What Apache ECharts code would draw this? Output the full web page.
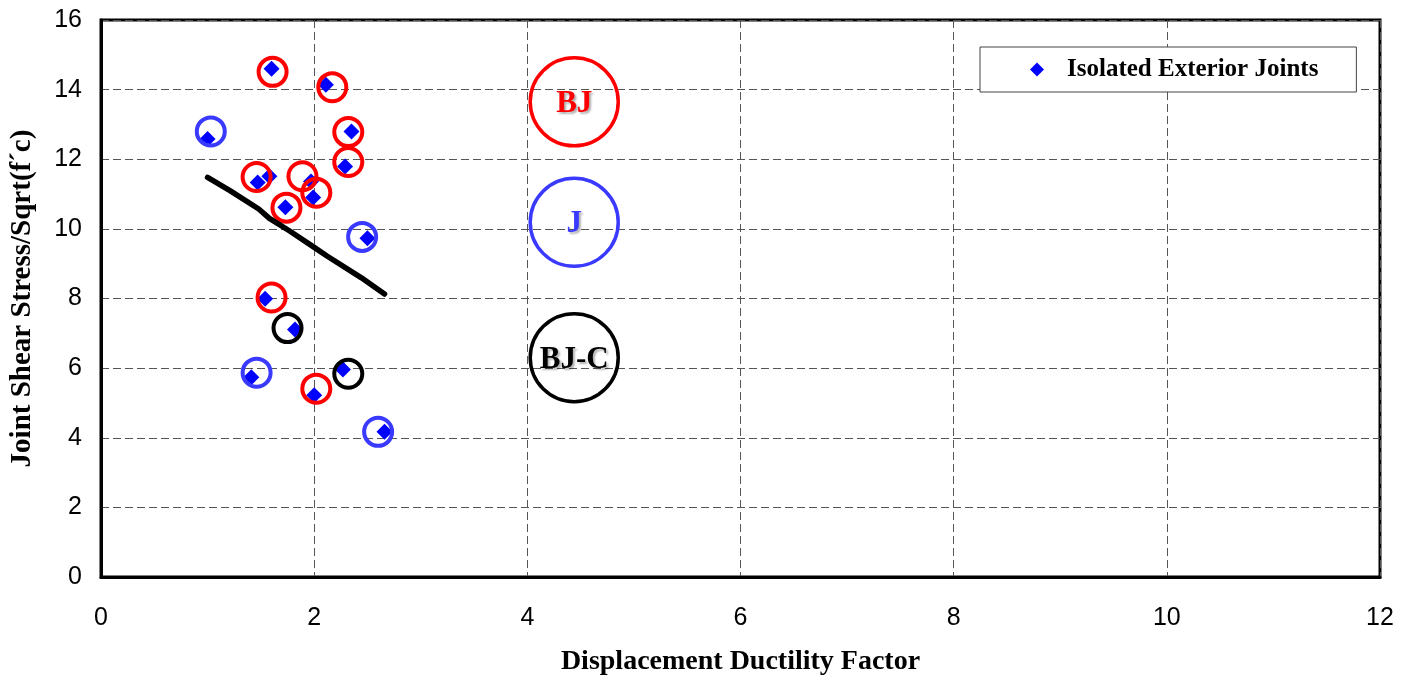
<!DOCTYPE html>
<html>
<head>
<meta charset="utf-8">
<script src="https://cdn.jsdelivr.net/npm/echarts@6/dist/echarts.min.js"></script>
<style>
html,body{margin:0;padding:0;background:#fff;}
#chart{width:1402px;height:681px;}
</style>
</head>
<body>
<div id="chart"></div>
<script>
// ---- data ----
var xTicks = [0, 2, 4, 6, 8, 10, 12];
var yTicks = [0, 2, 4, 6, 8, 10, 12, 14, 16];

var jointX = [1.60, 2.11, 1.00, 2.35, 2.29, 1.58, 1.47, 1.97, 1.99, 1.73, 2.50, 1.54, 1.82, 1.41, 2.27, 2.00, 2.66];
var jointY = [14.60, 14.14, 12.58, 12.80, 11.79, 11.51, 11.33, 11.36, 10.90, 10.62, 9.73, 7.99, 7.11, 5.74, 5.96, 5.22, 4.17];

var redCircleX = [1.61, 2.17, 2.32, 2.32, 1.46, 1.89, 2.02, 1.74, 1.60, 2.02];
var redCircleY = [14.51, 14.07, 12.78, 11.92, 11.49, 11.51, 11.04, 10.61, 8.03, 5.41];

var blueCircleX = [1.03, 2.45, 1.46, 2.60];
var blueCircleY = [12.80, 9.77, 5.87, 4.17];

var blackCircleX = [1.75, 2.32];
var blackCircleY = [7.15, 5.84];

var trendX = [1.00, 1.21, 1.48, 1.58, 1.77, 1.99, 2.12, 2.44, 2.66];
var trendY = [11.48, 11.10, 10.57, 10.30, 9.94, 9.49, 9.22, 8.60, 8.13];

var keyLabels = ['BJ', 'J', 'BJ-C'];
var keyX = [4.44, 4.44, 4.44];
var keyY = [13.65, 10.19, 6.30];
var keyColors = ['#ff0000', '#3a3aff', '#000000'];

var seriesName = 'Isolated Exterior Joints';
var xTitle = 'Displacement Ductility Factor';
var yTitle = 'Joint Shear Stress/Sqrt(f\u00b4c)';

function pairs(xs, ys) { return xs.map(function (x, i) { return [x, ys[i]]; }); }

var chart = echarts.init(document.getElementById('chart'), null, { renderer: 'canvas' });

var keyData = keyLabels.map(function (t, i) {
  return {
    value: [keyX[i], keyY[i]],
    name: t,
    itemStyle: { borderColor: keyColors[i] },
    label: { color: keyColors[i] }
  };
});

function ring(color) {
  return { color: 'rgba(0,0,0,0)', borderColor: color, borderWidth: 4, opacity: 1 };
}

chart.setOption({
  backgroundColor: '#ffffff',
  animation: false,
  grid: {
    left: 101, right: 22, top: 20, bottom: 102,
    show: true, borderColor: '#000', borderWidth: 3, backgroundColor: 'transparent'
  },
  legend: {
    data: [seriesName],
    left: 980, top: 47,
    orient: 'horizontal',
    itemWidth: 14, itemHeight: 14,
    padding: [10, 38, 10, 50],
    borderColor: '#444', borderWidth: 1,
    backgroundColor: '#fff',
    textStyle: {
      fontFamily: 'Liberation Serif', fontWeight: 'bold', fontSize: 25, color: '#000',
      padding: [0, 0, 0, 18]
    }
  },
  xAxis: {
    type: 'value', min: 0, max: 12, interval: 2,
    name: xTitle, nameLocation: 'middle', nameGap: 71,
    nameTextStyle: { fontFamily: 'Liberation Serif', fontWeight: 'bold', fontSize: 28, color: '#000' },
    axisLine: { show: true, onZero: false, lineStyle: { color: '#000', width: 3 } },
    axisTick: { show: false },
    axisLabel: { fontFamily: 'Liberation Sans', fontSize: 25, color: '#000', margin: 29,
      formatter: function (v) { return xTicks.indexOf(v) >= 0 ? String(v) : ''; } },
    splitLine: { show: true, lineStyle: { color: '#555', width: 1, type: [8, 4] } }
  },
  yAxis: {
    type: 'value', min: 0, max: 16, interval: 2,
    name: yTitle, nameLocation: 'middle', nameGap: 64, nameRotate: 90,
    nameTextStyle: { fontFamily: 'Liberation Serif', fontWeight: 'bold', fontSize: 29, color: '#000' },
    axisLine: { show: true, onZero: false, lineStyle: { color: '#000', width: 3 } },
    axisTick: { show: false },
    axisLabel: { fontFamily: 'Liberation Sans', fontSize: 25, color: '#000', margin: 19,
      formatter: function (v) { return yTicks.indexOf(v) >= 0 ? String(v) : ''; } },
    splitLine: { show: true, lineStyle: { color: '#555', width: 1, type: [8, 4] } }
  },
  series: [
    {
      name: seriesName, type: 'scatter', symbol: 'diamond', symbolSize: 16,
      itemStyle: { color: '#0000ff', opacity: 1 }, z: 3,
      data: pairs(jointX, jointY)
    },
    {
      name: 'red', type: 'scatter', symbol: 'circle', symbolSize: 28, z: 4,
      itemStyle: ring('#ff0000'),
      data: pairs(redCircleX, redCircleY)
    },
    {
      name: 'blue', type: 'scatter', symbol: 'circle', symbolSize: 28, z: 4,
      itemStyle: ring('#3a3aff'),
      data: pairs(blueCircleX, blueCircleY)
    },
    {
      name: 'black', type: 'scatter', symbol: 'circle', symbolSize: 28, z: 4,
      itemStyle: ring('#000000'),
      data: pairs(blackCircleX, blackCircleY)
    },
    {
      name: 'trend', type: 'line', showSymbol: false, z: 5,
      lineStyle: { color: '#000', width: 5.5, cap: 'round', join: 'round' },
      data: pairs(trendX, trendY)
    },
    {
      name: 'key', type: 'scatter', symbol: 'circle', symbolSize: 88, z: 4,
      itemStyle: { color: 'rgba(0,0,0,0)', borderWidth: 3.5, opacity: 1 },
      label: {
        show: true, position: 'inside', offset: [0, 2],
        formatter: function (p) { return p.name; },
        fontFamily: 'Liberation Serif', fontWeight: 'bold', fontSize: 31,
        textShadowColor: 'rgba(0,0,0,0.3)', textShadowOffsetX: 2, textShadowOffsetY: 2, textShadowBlur: 2
      },
      emphasis: { disabled: true },
      data: keyData
    }
  ]
});
</script>
</body>
</html>
